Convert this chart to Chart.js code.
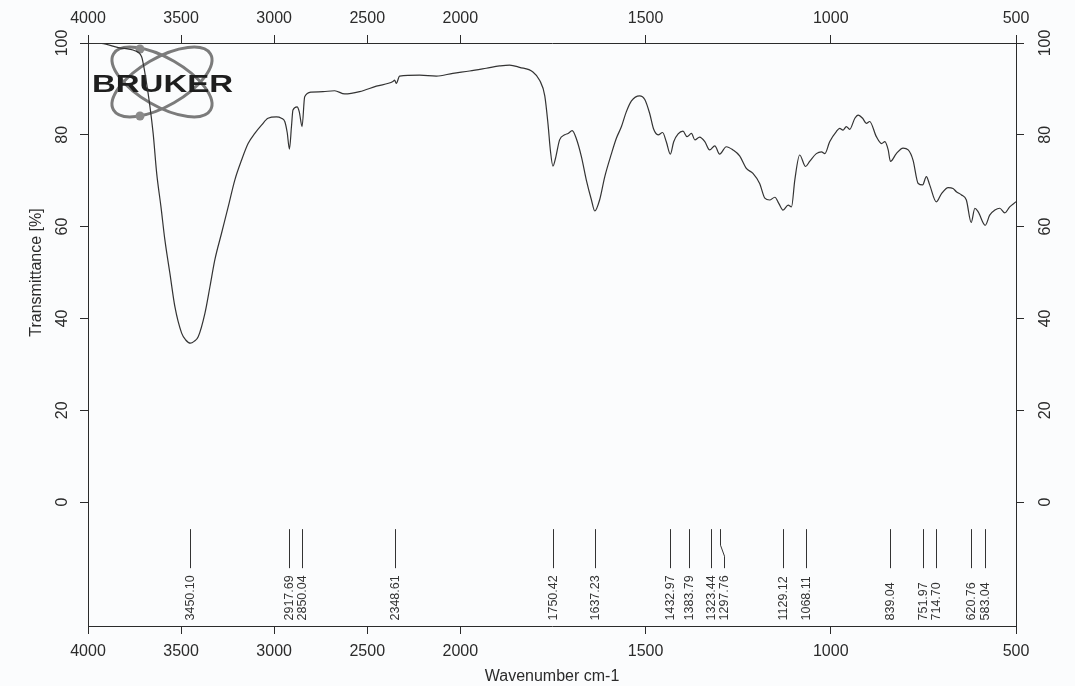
<!DOCTYPE html>
<html>
<head>
<meta charset="utf-8">
<title>IR spectrum</title>
<script src="https://cdn.jsdelivr.net/npm/chart.js@4.4.1/dist/chart.umd.min.js"></script>
<style>
  html, body { margin: 0; padding: 0; background: #fbfcfd; }
  canvas { display: block; }
</style>
</head>
<body>
<canvas id="spectrumChart" width="1075" height="686"></canvas>
<script>
// Spectrum trace, from high to low wavenumber (cm-1) and transmittance (%)
const wavenumbers = [
  4000, 3927, 3837, 3748, 3712, 3694, 3667, 3650, 3631, 3608, 3587, 3560, 3533, 3497, 3475, 3450,
  3430, 3408, 3372, 3345, 3319, 3283, 3247, 3211, 3175, 3140, 3104, 3068, 3033, 2988, 2961, 2943,
  2930, 2918, 2907, 2899, 2877, 2865, 2850, 2836, 2800, 2738, 2675, 2621, 2541, 2451, 2362, 2353,
  2344, 2326, 2219, 2129, 2040, 1975, 1930, 1894, 1867, 1840, 1804, 1786, 1772, 1763, 1757, 1750,
  1743, 1732, 1718, 1709, 1698, 1687, 1673, 1660, 1646, 1637, 1624, 1610, 1592, 1579, 1565, 1552,
  1538, 1516, 1502, 1489, 1478, 1466, 1454, 1444, 1433, 1424, 1412, 1399, 1388, 1376, 1367, 1354,
  1340, 1327, 1313, 1300, 1282, 1264, 1246, 1228, 1210, 1192, 1178, 1165, 1151, 1140, 1129, 1115,
  1106, 1097, 1084, 1068, 1057, 1039, 1025, 1016, 1003, 985, 976, 967, 958, 949, 935, 926,
  914, 904, 895, 877, 863, 854, 845, 839, 823, 805, 791, 778, 764, 752, 742, 733,
  715, 701, 683, 670, 661, 647, 634, 621, 611, 602, 583, 571, 557, 544, 530, 517, 500
];
const transmittance = [
  100.0, 99.9, 99.0, 98.3, 97.0, 93.4, 86.1, 80.3, 71.6, 64.3, 57.1, 49.8, 42.5, 36.8, 35.3, 34.6,
  35.0, 36.0, 41.1, 46.9, 52.7, 58.5, 64.3, 70.2, 74.5, 78.1, 80.3, 82.1, 83.6, 83.9, 83.6, 82.9,
  80.5, 76.9, 81.8, 85.4, 86.1, 85.0, 81.8, 88.3, 89.3, 89.4, 89.6, 88.9, 89.4, 90.6, 91.6, 91.9,
  91.2, 92.8, 93.0, 92.8, 93.4, 93.9, 94.5, 95.0, 95.2, 94.7, 93.7, 91.9, 88.5, 82.1, 76.7, 73.2,
  74.9, 78.9, 80.0, 80.3, 80.9, 79.2, 75.2, 70.2, 65.8, 63.4, 65.8, 70.9, 75.9, 79.2, 81.8, 85.0,
  87.4, 88.5, 87.7, 84.7, 81.2, 80.0, 80.5, 78.5, 75.8, 78.5, 80.2, 80.8, 79.6, 80.3, 78.9, 79.5,
  78.5, 76.7, 77.6, 75.8, 77.4, 76.7, 75.4, 72.7, 71.6, 69.4, 66.2, 65.8, 66.4, 65.0, 63.6, 64.7,
  64.3, 70.2, 75.6, 73.1, 74.2, 75.9, 76.3, 75.9, 78.5, 80.7, 81.4, 81.0, 81.8, 81.2, 83.6, 84.3,
  83.6, 82.5, 82.9, 79.6, 78.1, 78.5, 76.7, 74.2, 75.9, 77.1, 76.7, 74.5, 69.4, 69.1, 70.9, 69.1,
  65.4, 67.2, 68.5, 68.3, 67.6, 66.9, 65.8, 60.9, 64.0, 63.2, 60.3, 62.5, 63.6, 64.0, 63.0, 64.3, 65.4
];

// Picked peaks listed under the trace
const peakPositions = [
  3450.10, 2917.69, 2850.04, 2348.61, 1750.42, 1637.23, 1432.97, 1383.79, 1323.44,
  1297.76, 1129.12, 1068.11, 839.04, 751.97, 714.70, 620.76, 583.04
];

const xTickValues = [4000, 3500, 3000, 2500, 2000, 1500, 1000, 500];
const yTickValues = [0, 20, 40, 60, 80, 100];

// Below 2000 cm-1 the axis is stretched, like the OPUS plot layout
const SPLIT = 2000;
const STRETCH = 1.99;
function axisPos(w) {
  return w >= SPLIT ? 4000 - w : (4000 - SPLIT) + (SPLIT - w) * STRETCH;
}

const axisColor = '#2b2b2b';
const fontFamily = '"Liberation Sans", Arial, sans-serif';
Chart.defaults.font.family = fontFamily;
Chart.defaults.color = axisColor;

function xAxis(position) {
  return {
    type: 'linear',
    position: position,
    min: 0,
    max: axisPos(500),
    afterBuildTicks: s => { s.ticks = xTickValues.map(w => ({ value: axisPos(w) })); },
    afterFit: s => { s.height = position === 'top' ? 43 : 60; },
    ticks: {
      autoSkip: false,
      maxRotation: 0,
      padding: position === 'top' ? 7 : 8,
      font: { size: 16 },
      callback: (v, i) => xTickValues[i]
    },
    grid: { drawOnChartArea: false, tickLength: 8, tickColor: axisColor },
    border: { color: axisColor, width: 1 },
    title: {
      display: position === 'bottom',
      text: 'Wavenumber cm-1',
      font: { size: 16, lineHeight: 1 },
      padding: { top: 0, bottom: 1 }
    }
  };
}

function yAxis(position) {
  return {
    type: 'linear',
    position: position,
    min: -27,
    max: 100,
    afterBuildTicks: s => { s.ticks = yTickValues.map(v => ({ value: v })); },
    afterFit: s => { s.width = position === 'left' ? 88 : 59; },
    ticks: {
      minRotation: 90,
      maxRotation: 90,
      crossAlign: 'center',
      padding: position === 'left' ? 4 : 8,
      font: { size: 16 }
    },
    grid: { drawOnChartArea: false, tickLength: 8, tickColor: axisColor },
    border: { color: axisColor, width: 1 }
  };
}

// Atom logo in the upper left corner
const brukerLogo = {
  id: 'brukerLogo',
  beforeDatasetsDraw(chart) {
    const { ctx, chartArea } = chart;
    const cx = chartArea.left + 74, cy = chartArea.top + 39;
    ctx.save();
    ctx.strokeStyle = '#7b7b7b';
    ctx.lineWidth = 3;
    [Math.PI / 6, -Math.PI / 6].forEach(rot => {
      ctx.beginPath();
      ctx.ellipse(cx, cy, 56, 24, rot, 0, Math.PI * 2);
      ctx.stroke();
    });
    ctx.fillStyle = '#8a8a8a';
    [[-22, -33], [-22, 34]].forEach(([dx, dy]) => {
      ctx.beginPath();
      ctx.arc(cx + dx, cy + dy, 4.5, 0, Math.PI * 2);
      ctx.fill();
    });
    ctx.font = 'bold 23px ' + fontFamily;
    ctx.fillStyle = '#1e1e1e';
    ctx.textBaseline = 'alphabetic';
    const w = ctx.measureText('BRUKER').width;
    ctx.translate(chartArea.left + 4, chartArea.top + 48.5);
    ctx.scale(141 / w, 1);
    ctx.fillText('BRUKER', 0, 0);
    ctx.restore();
  }
};

// Peak marker lines with their wavenumbers written upwards
const peakMarkers = {
  id: 'peakMarkers',
  afterDatasetsDraw(chart) {
    const { ctx, scales: { x, y } } = chart;
    const yTop = y.getPixelForValue(-5.9);
    const yBend = y.getPixelForValue(-9.4);
    const yKnee = y.getPixelForValue(-11.8);
    const yBottom = y.getPixelForValue(-14.4);
    const yText = y.getPixelForValue(-25.8);
    let prev = -Infinity;
    ctx.save();
    ctx.strokeStyle = '#333';
    ctx.fillStyle = '#333';
    ctx.lineWidth = 1;
    ctx.font = '12.5px ' + fontFamily;
    ctx.textAlign = 'left';
    ctx.textBaseline = 'middle';
    peakPositions.forEach(p => {
      const px = Math.round(x.getPixelForValue(axisPos(p))) + 0.5;
      // crowded labels are pushed right and the leader line bends to follow
      const lx = px - prev < 11 ? prev + 13 : px;
      prev = lx;
      ctx.beginPath();
      ctx.moveTo(px, yTop);
      if (lx !== px) {
        ctx.lineTo(px, yBend);
        ctx.lineTo(lx, yKnee);
      }
      ctx.lineTo(lx, yBottom);
      ctx.stroke();
      ctx.save();
      ctx.translate(lx, yText);
      ctx.rotate(-Math.PI / 2);
      ctx.fillText(p.toFixed(2), 0, 0);
      ctx.restore();
    });
    ctx.restore();
  }
};

// Y title sits centred on the 0..100 range only
const yTitle = {
  id: 'yTitle',
  afterDraw(chart) {
    const { ctx, chartArea, scales: { y } } = chart;
    ctx.save();
    ctx.translate(chartArea.left - 51, (y.getPixelForValue(0) + y.getPixelForValue(100)) / 2);
    ctx.rotate(-Math.PI / 2);
    ctx.font = '16px ' + fontFamily;
    ctx.fillStyle = axisColor;
    ctx.textAlign = 'center';
    ctx.textBaseline = 'middle';
    ctx.fillText('Transmittance [%]', 0, 0);
    ctx.restore();
  }
};

new Chart(document.getElementById('spectrumChart'), {
  type: 'line',
  data: {
    datasets: [{
      label: 'Transmittance',
      data: wavenumbers.map((w, i) => ({ x: axisPos(w), y: transmittance[i] })),
      borderColor: '#333',
      borderWidth: 1.2,
      pointRadius: 0,
      fill: false,
      cubicInterpolationMode: 'monotone'
    }]
  },
  options: {
    responsive: false,
    animation: false,
    devicePixelRatio: 1,
    layout: { padding: 0 },
    plugins: {
      legend: { display: false },
      tooltip: { enabled: false }
    },
    scales: {
      x: xAxis('bottom'),
      xTop: xAxis('top'),
      y: yAxis('left'),
      yRight: yAxis('right')
    }
  },
  plugins: [brukerLogo, peakMarkers, yTitle]
});
</script>
</body>
</html>
